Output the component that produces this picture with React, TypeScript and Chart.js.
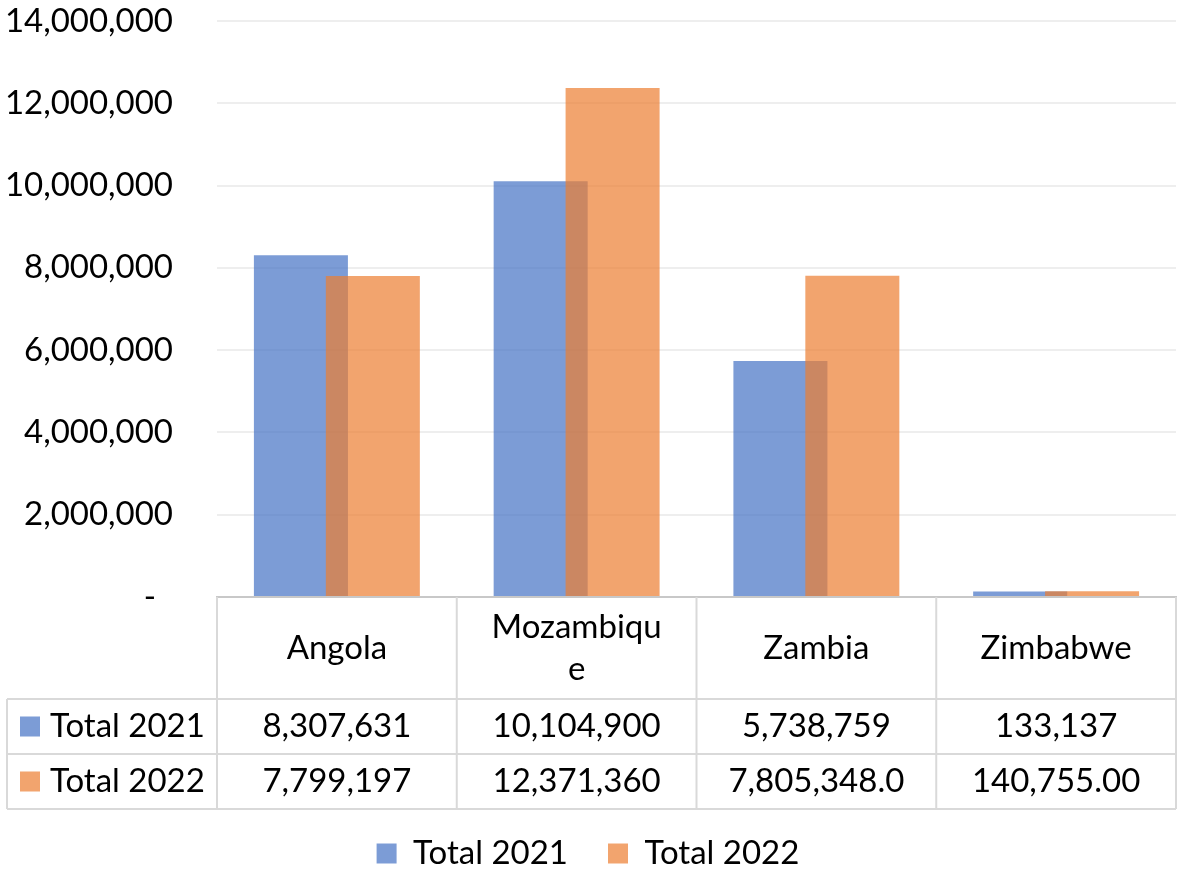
import React, { useEffect, useRef } from "react";
import { Chart, registerables } from "chart.js";

Chart.register(...registerables);

// ---- data ----
const categories: string[] = ["Angola", "Mozambique", "Zambia", "Zimbabwe"];
const headerLines: string[][] = [["Angola"], ["Mozambiqu", "e"], ["Zambia"], ["Zimbabwe"]];
const seriesNames: string[] = ["Total 2021", "Total 2022"];
const total2021: number[] = [8307631, 10104900, 5738759, 133137];
const total2022: number[] = [7799197, 12371360, 7805348, 140755];
const table2021: string[] = ["8,307,631", "10,104,900", "5,738,759", "133,137"];
const table2022: string[] = ["7,799,197", "12,371,360", "7,805,348.0", "140,755.00"];
const yMin = 0;
const yMax = 14000000;
const yStep = 2000000;

const COLORS = ["rgba(68,114,196,0.7)", "rgba(237,125,49,0.7)"];
const FONT = "Lato";
const FONT_SIZE = 33;
const LINE = "#d9d9d9";

// Draw the second series after the first so it overlays it (as in the reference).
const overlayOrderPlugin = {
  id: "overlayOrder",
  beforeDatasetDraw(chart: any, args: any) {
    if (args.index === 1) return false;
    return true;
  },
  afterDatasetsDraw(chart: any) {
    const meta = chart.getDatasetMeta(1);
    if (meta && !meta.hidden) meta.controller.draw();
  },
};

const tablePlugin = {
  id: "dataTable",
  afterDraw(chart: any) {
    const ctx: CanvasRenderingContext2D = chart.ctx;
    const area = chart.chartArea;
    const n = categories.length;
    const colW = (area.right - area.left) / n;
    const top = area.bottom;
    const headerBottom = top + 102;
    const row1Bottom = headerBottom + 55;
    const row2Bottom = row1Bottom + 55;
    const tableLeft = 7;

    ctx.save();
    ctx.strokeStyle = LINE;
    ctx.lineWidth = 2;
    ctx.beginPath();
    for (let i = 0; i <= n; i++) {
      const x = area.left + i * colW;
      ctx.moveTo(x, top);
      ctx.lineTo(x, row2Bottom);
    }
    [headerBottom, row1Bottom, row2Bottom].forEach((y) => {
      ctx.moveTo(tableLeft, y);
      ctx.lineTo(area.right, y);
    });
    ctx.moveTo(tableLeft, headerBottom);
    ctx.lineTo(tableLeft, row2Bottom);
    ctx.stroke();

    ctx.fillStyle = "#000";
    ctx.font = `${FONT_SIZE}px ${FONT}`;
    ctx.textAlign = "center";
    ctx.textBaseline = "middle";
    const headerMid = (top + headerBottom) / 2;
    headerLines.forEach((lines, i) => {
      const cx = area.left + (i + 0.5) * colW;
      const lh = 42;
      const start = headerMid - ((lines.length - 1) * lh) / 2;
      lines.forEach((t, k) => ctx.fillText(t, cx, start + k * lh));
    });

    const rows = [table2021, table2022];
    const mids = [(headerBottom + row1Bottom) / 2, (row1Bottom + row2Bottom) / 2];
    rows.forEach((row, r) => {
      row.forEach((t, i) => {
        const cx = area.left + (i + 0.5) * colW;
        ctx.fillText(t, cx, mids[r]);
      });
      ctx.fillStyle = chart.data.datasets[r].backgroundColor;
      ctx.fillRect(tableLeft + 13, mids[r] - 10, 20, 20);
      ctx.fillStyle = "#000";
      ctx.textAlign = "left";
      ctx.fillText(seriesNames[r], tableLeft + 43, mids[r]);
      ctx.textAlign = "center";
    });
    ctx.restore();
  },
};

export default function App() {
  const ref = useRef<HTMLCanvasElement | null>(null);

  useEffect(() => {
    if (!ref.current) return;
    Chart.defaults.font.family = FONT;
    Chart.defaults.color = "#000";
    const chart = new Chart(ref.current, {
      type: "bar",
      data: {
        labels: categories,
        datasets: [
          {
            label: seriesNames[0],
            data: total2021,
            backgroundColor: COLORS[0],
            borderWidth: 0,
            categoryPercentage: 0.6,
            barPercentage: 1.307,
          },
          {
            label: seriesNames[1],
            data: total2022,
            backgroundColor: COLORS[1],
            borderWidth: 0,
            categoryPercentage: 0.6,
            barPercentage: 1.307,
          },
        ],
      },
      options: {
        animation: false,
        responsive: false,
        devicePixelRatio: 1,
        layout: { padding: { top: 21, right: 2, left: 0, bottom: -8 } },
        plugins: {
          legend: {
            position: "bottom",
            labels: {
              boxWidth: 20,
              boxHeight: 20,
              padding: 40,
              color: "#000",
              font: { size: FONT_SIZE, family: FONT },
            },
          },
          tooltip: { enabled: false },
        },
        scales: {
          x: {
            grid: { display: false },
            border: { display: true, color: "#c8c8c8", width: 2 },
            ticks: { display: false },
            afterFit: (scale: any) => {
              scale.height = 200;
            },
          },
          y: {
            min: yMin,
            max: yMax,
            border: { display: false },
            grid: { color: "#eeeeee", lineWidth: 2, drawTicks: false },
            ticks: {
              stepSize: yStep,
              padding: 44,
              color: "#000",
              font: { size: FONT_SIZE, family: FONT },
              callback: (v: any) => (Number(v) === 0 ? "-  " : Number(v).toLocaleString("en-US")),
            },
            afterFit: (scale: any) => {
              scale.width = 217;
              scale.paddingTop = 0;
              scale.paddingBottom = 0;
            },
          },
        },
      },
      plugins: [overlayOrderPlugin, tablePlugin],
    });
    return () => chart.destroy();
  }, []);

  return (
    <div style={{ position: "fixed", left: 0, top: 0, width: 1178, height: 872, background: "#fff" }}>
      <canvas ref={ref} width={1178} height={872} />
    </div>
  );
}
